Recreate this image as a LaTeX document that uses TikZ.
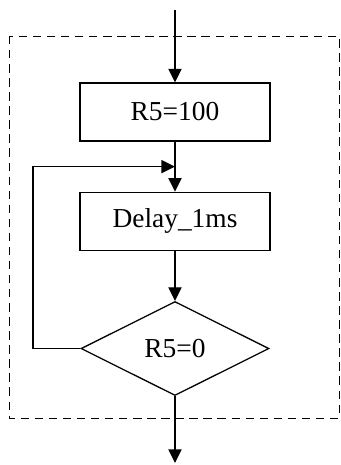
\documentclass[tikz,border=0pt]{standalone}
\usepackage{fontspec}
\setmainfont{Liberation Serif}
\usepackage{tikz}
\usetikzlibrary{shapes.geometric, arrows.meta, positioning, calc}
\tikzstyle{process} = [rectangle, minimum width=4.75cm, minimum height=1.45cm, text centered, draw=black, line width=0.9pt]
\tikzstyle{decision} = [diamond, aspect=2, minimum width=4.7cm, minimum height=2.35cm, inner sep=0pt, text centered, draw=black, line width=0.9pt]
\tikzstyle{arrow} = [line width=0.9pt, -{Triangle[length=3.4mm, width=3.3mm]}]

\begin{document}
\begin{tikzpicture}[node distance=1.25cm, every node/.style={font=\fontsize{19.5}{22}\selectfont}]
    \useasboundingbox (-4.375,2.8) rectangle (4.15,-8.825);
    \draw[dashed, dash pattern=on 6pt off 4pt, line width=0.7pt] (-4.15,1.9) rectangle (4.1,-7.65);
    \node (load) [process] {R5=100};
    \node (delay) [process, below=of load] {Delay\_1ms};
    \node (test) [decision, below=of delay] {R5=0};
    \coordinate (entry) at (0,2.55);
    \coordinate (exit) at (0,-8.775);
    \coordinate (join) at ($(load.south)!0.5!(delay.north)$);
    \coordinate (back) at (-3.55,0);
    \draw[arrow] (entry) -- (load);
    \draw[arrow] (load) -- (delay);
    \draw[arrow] (delay) -- (test);
    \draw[arrow] (test.west) -| (back |- join) -- (join);
    \draw[arrow] (test) -- (exit);
\end{tikzpicture}
\end{document}
